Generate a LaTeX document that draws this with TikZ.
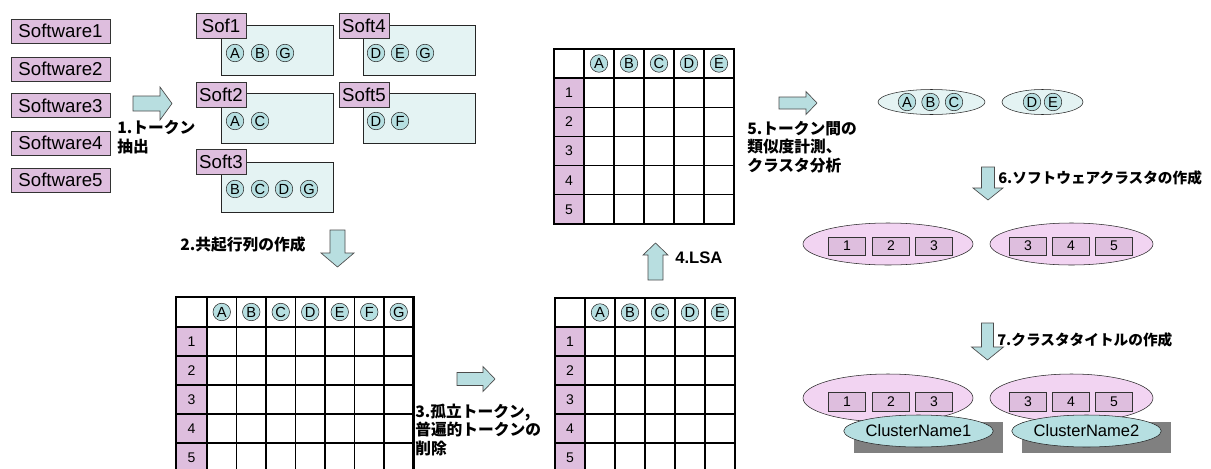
\documentclass[tikz,border=0pt]{standalone}
\usepackage{fontspec}
\setmainfont{Liberation Sans}
\newfontfamily\jp{Noto Sans CJK JP}
\usetikzlibrary{shapes.geometric}
\definecolor{pinkbox}{RGB}{222,190,222}
\definecolor{pinkell}{RGB}{242,212,242}
\definecolor{cyancirc}{RGB}{182,223,225}
\definecolor{cyanlight}{RGB}{228,243,243}
\definecolor{cyanarrow}{RGB}{184,222,224}
\definecolor{shadowgray}{RGB}{128,128,128}
\def\u{0.75pt}
\tikzset{
  swbox/.style={draw=black!80, fill=pinkbox, inner sep=0pt, minimum width=99*\u, minimum height=24*\u, font=\fontsize{14}{16}\selectfont},
  softlbl/.style={draw=black!80, fill=pinkbox, inner sep=0pt, minimum width=50*\u, minimum height=25*\u, font=\fontsize{14}{16}\selectfont},
  softbody/.style={draw=black!85, fill=cyanlight, inner sep=0pt, minimum width=112*\u, minimum height=50*\u},
  tok/.style={circle, draw=black!85, fill=cyancirc, inner sep=0pt, minimum size=17.5*\u, font=\fontsize{11}{11}\selectfont},
  num/.style={inner sep=0pt, font=\fontsize{10.5}{12}\selectfont},
  thingrid/.style={draw=black, line width=0.8pt},
  thickgrid/.style={draw=black, line width=1.7pt},
  blockarrow/.style={draw=black!70, fill=cyanarrow, line width=0.5pt, line join=miter},
  jlabel/.style={inner sep=0pt, align=left, font=\jp\bfseries\fontsize{11.8}{14}\selectfont},
  jsmall/.style={inner sep=0pt, align=left, font=\jp\bfseries\fontsize{11}{14}\selectfont},
  clbox/.style={draw=black!80, fill=pinkbox, inner sep=0pt, minimum width=37*\u, minimum height=18*\u, font=\fontsize{10.5}{12}\selectfont},
  pinkellipse/.style={ellipse, draw=black!85, fill=pinkell, inner sep=0pt},
  cyanellipse/.style={ellipse, draw=black!85, fill=cyanlight, inner sep=0pt},
  namellipse/.style={ellipse, draw=black!85, fill=cyancirc, inner sep=0pt, minimum width=144*\u, minimum height=32*\u, font=\fontsize{12.4}{14}\selectfont},
}
% right, down, up block arrows
\newcommand\arrowR[6]{% x1 x2 yc shafthalf headhalf headlen
  \draw[blockarrow] (#1,#3-#4) -- (#2-#6,#3-#4) -- (#2-#6,#3-#5) -- (#2,#3) -- (#2-#6,#3+#5) -- (#2-#6,#3+#4) -- (#1,#3+#4) -- cycle;}
\newcommand\arrowD[6]{% xc y1 y2(tip) shafthalf headhalf headlen
  \draw[blockarrow] (#1-#4,#2) -- (#1-#4,#3-#6) -- (#1-#5,#3-#6) -- (#1,#3) -- (#1+#5,#3-#6) -- (#1+#4,#3-#6) -- (#1+#4,#2) -- cycle;}
\newcommand\arrowU[6]{% xc y1(tip) y2 shafthalf headhalf headlen
  \draw[blockarrow] (#1-#4,#3) -- (#1-#4,#2+#6) -- (#1-#5,#2+#6) -- (#1,#2) -- (#1+#5,#2+#6) -- (#1+#4,#2+#6) -- (#1+#4,#3) -- cycle;}
\newcommand\mtable[8]{% x0 y0 firstw cellw headh rowh ncols letters
  \pgfmathsetmacro\xr{#1+#3+#7*#4}
  \pgfmathsetmacro\yb{#2+#5+5*#6}
  \fill[white] (#1,#2) rectangle (\xr,\yb);
  \fill[pinkbox] (#1,#2+#5) rectangle (#1+#3,\yb);
  \foreach \k in {1,...,#7} \draw[thingrid] (#1+#3+\k*#4,#2) -- (#1+#3+\k*#4,\yb);
  \foreach \k in {1,...,5} \draw[thingrid] (#1,#2+#5+\k*#6) -- (\xr,#2+#5+\k*#6);
  \draw[thickgrid] (#1,#2) rectangle (\xr,\yb);
  \draw[thickgrid] (#1,#2+#5) -- (\xr,#2+#5);
  \draw[thickgrid] (#1+#3,#2) -- (#1+#3,\yb);
  \foreach \L [count=\k] in {#8} \node[tok] at (#1+#3+\k*#4-#4/2,#2+#5/2) {\L};
  \foreach \k in {1,...,5} \node[num] at (#1+#3/2,#2+#5+\k*#6-#6/2) {\k};
}
\begin{document}
\begin{tikzpicture}[x=0.75pt,y=-0.75pt]
\useasboundingbox (0,0) rectangle (1211,468);
\clip (0,0) rectangle (1211,468);
\fill[white] (0,0) rectangle (1211,468);

% software list
\node[swbox] (sw1) at (60.5,31) {Software1};
\node[swbox] (sw2) at (60.5,69) {Software2};
\node[swbox] (sw3) at (60.5,105.5) {Software3};
\node[swbox] (sw4) at (60.5,143) {Software4};
\node[swbox] (sw5) at (60.5,180) {Software5};

% step 1
\arrowR{133}{172}{103.5}{7.5}{16.5}{12}
\node[jlabel, anchor=west] (l1) at (117,137) {1.トークン\\抽出};

% soft boxes
\node[softbody] (b1) at (277,50) {};
\node[softlbl] (s1) at (221,25.5) {Sof1};
\node[tok] (b1a) at (235,53) {A};
\node[tok] (b1b) at (260,53) {B};
\node[tok] (b1g) at (285,53) {G};

\node[softbody] (b2) at (277,118.5) {};
\node[softlbl] (s2) at (221,95) {Soft2};
\node[tok] (b2a) at (235,121) {A};
\node[tok] (b2c) at (260,121) {C};

\node[softbody] (b3) at (277,187) {};
\node[softlbl] (s3) at (221,161.5) {Soft3};
\node[tok] (b3b) at (235,189) {B};
\node[tok] (b3c) at (260,189) {C};
\node[tok] (b3d) at (284,189) {D};
\node[tok] (b3g) at (309,189) {G};

\node[softbody] (b4) at (419.5,50) {};
\node[softlbl] (s4) at (364,25.5) {Soft4};
\node[tok] (b4d) at (376,53) {D};
\node[tok] (b4e) at (400,53) {E};
\node[tok] (b4g) at (425,53) {G};

\node[softbody] (b5) at (419.5,118.5) {};
\node[softlbl] (s5) at (364,95) {Soft5};
\node[tok] (b5d) at (376,121) {D};
\node[tok] (b5f) at (400,121) {F};

% step 2
\arrowD{337.5}{230}{267}{7.5}{16.5}{14}
\node[jlabel, anchor=west] (l2) at (180,245) {2.共起行列の作成};

% tables
\mtable{554}{49}{30}{30}{29}{29.2}{5}{A,B,C,D,E}
\mtable{176}{297}{31}{29.5}{30}{29}{7}{A,B,C,D,E,F,G}
\mtable{555}{298}{30}{30}{29}{29}{5}{A,B,C,D,E}

% step 3
\arrowR{457}{495}{379}{6.5}{12.5}{12}
\node[jlabel, anchor=west] (l3) at (415,430) {3.孤立トークン,\\普遍的トークンの\\削除};

% step 4
\arrowU{655.5}{243}{280}{7.5}{12.5}{12}
\node[inner sep=0pt, anchor=west, font=\bfseries\fontsize{12.5}{14}\selectfont] (l4) at (675,258) {4.LSA};

% step 5
\arrowR{779}{817}{103}{6}{11.5}{11}
\node[jlabel, anchor=west] (l5) at (747,147) {5.トークン間の\\類似度計測、\\クラスタ分析};

\node[cyanellipse, minimum width=107*\u, minimum height=25*\u] (e1) at (931.5,102) {};
\node[tok] (e1a) at (907,102) {A};
\node[tok] (e1b) at (930.5,102) {B};
\node[tok] (e1c) at (954,102) {C};
\node[cyanellipse, minimum width=81*\u, minimum height=25*\u] (e2) at (1042.5,102) {};
\node[tok] (e2d) at (1032,102) {D};
\node[tok] (e2e) at (1053,102) {E};

% step 6
\arrowD{988}{167}{200}{6.5}{15}{12}
\node[jsmall, anchor=west] (l6) at (998,178) {6.ソフトウェアクラスタの作成};

\node[pinkellipse, minimum width=170*\u, minimum height=42*\u] (p1) at (888,244) {};
\node[clbox] (p1a) at (847,246) {1};
\node[clbox] (p1b) at (891,246) {2};
\node[clbox] (p1c) at (934,246) {3};
\node[pinkellipse, minimum width=163*\u, minimum height=42*\u] (p2) at (1071.5,244) {};
\node[clbox] (p2a) at (1028,246) {3};
\node[clbox] (p2b) at (1071,246) {4};
\node[clbox] (p2c) at (1114,246) {5};

% step 7
\arrowD{987.5}{323}{360}{6}{16}{13}
\node[jsmall, anchor=west] (l7) at (997,340) {7.クラスタタイトルの作成};

\node[pinkellipse, minimum width=170*\u, minimum height=48*\u] (q1) at (888,398) {};
\node[clbox, minimum height=19*\u] (q1a) at (847,402) {1};
\node[clbox, minimum height=19*\u] (q1b) at (891,402) {2};
\node[clbox, minimum height=19*\u] (q1c) at (934,402) {3};
\node[pinkellipse, minimum width=163*\u, minimum height=48*\u] (q2) at (1071.5,398) {};
\node[clbox, minimum height=19*\u] (q2a) at (1028,402) {3};
\node[clbox, minimum height=19*\u] (q2b) at (1071,402) {4};
\node[clbox, minimum height=19*\u] (q2c) at (1114,402) {5};

\fill[shadowgray] (854,422) rectangle (1003,453);
\fill[shadowgray] (1022,422) rectangle (1171,453);
\node[namellipse] (n1) at (918.5,431) {ClusterName1};
\node[namellipse] (n2) at (1086.5,431) {ClusterName2};
\end{tikzpicture}
\end{document}
